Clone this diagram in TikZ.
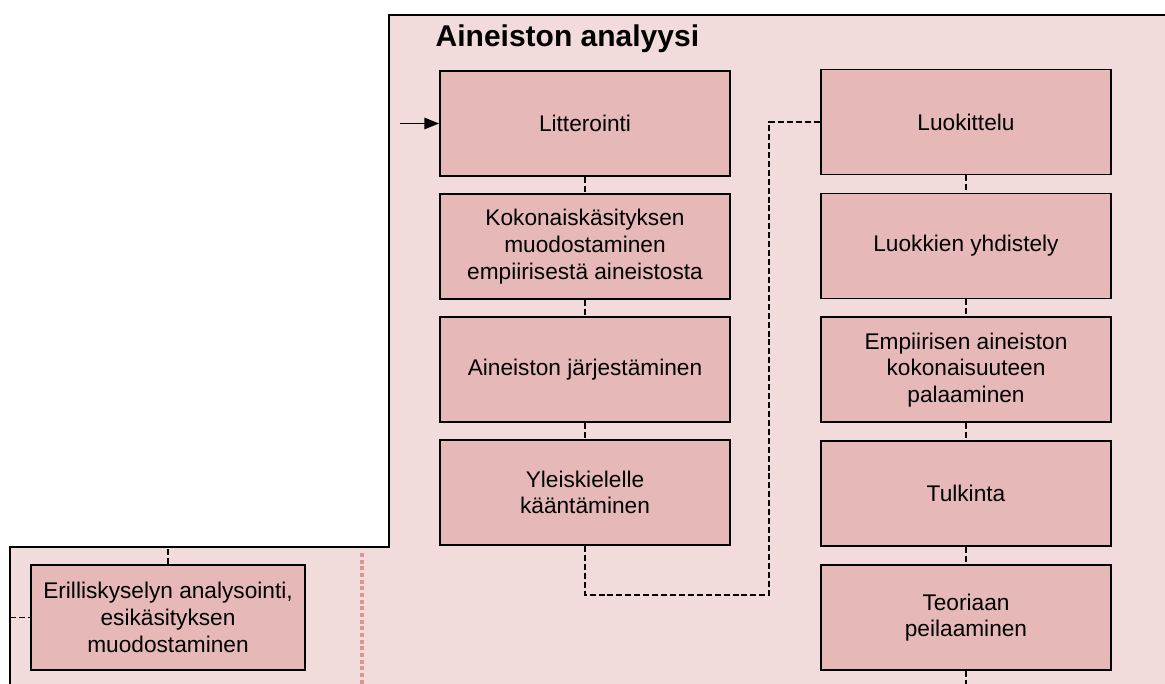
\documentclass[tikz,border=0pt]{standalone}
\usepackage{fontspec}
\setmainfont{Liberation Sans}
\usetikzlibrary{arrows.meta,positioning}
\definecolor{panel}{HTML}{F2DCDB}
\definecolor{boxfill}{HTML}{E6B9B8}
\definecolor{sep}{HTML}{D99694}

\begin{document}
\begin{tikzpicture}[x=0.75pt,y=-0.75pt,
 every node/.style={font=\fontsize{17}{20}\selectfont},
 stage/.style={draw,line width=1.3pt,fill=boxfill,minimum width=217.5pt,minimum height=78.75pt,align=center,inner sep=2pt},
 link/.style={dashed,line width=1.1pt,dash pattern=on 4.5pt off 2.2pt},
 arr/.style={-{Triangle[length=11pt,width=8.5pt]},line width=1.1pt}]
\useasboundingbox (0,0) rectangle (1165,684);
\clip (0,0) rectangle (1165,684);
% panel
\fill[panel] (1170,15) -- (389,15) -- (389,547) -- (10,547) -- (10,690) -- (1170,690) -- cycle;
\draw[line width=1.9pt] (1170,15) -- (389,15) -- (389,547) -- (10,547) -- (10,690);
\draw[sep,line width=3.6pt,dash pattern=on 3pt off 2pt] (362,553) -- (362,690);
\node[anchor=base west,font=\bfseries\fontsize{22.5}{27}\selectfont] (title) at (431,47) {Aineiston analyysi};
% left column
\begin{scope}[node distance=12.2pt]
\node[stage] (litt) at (585,123.5) {Litterointi};
\node[stage,below=of litt] (koko) {Kokonaiskäsityksen\\muodostaminen\\empiirisestä aineistosta};
\node[stage,below=of koko] (jarj) {Aineiston järjestäminen};
\node[stage,below=of jarj] (ylei) {Yleiskielelle\\kääntäminen};
\end{scope}
% right column
\begin{scope}[node distance=12.9pt]
\node[stage] (luok) at (966,122) {Luokittelu};
\node[stage,below=of luok] (yhdi) {Luokkien yhdistely};
\node[stage,below=of yhdi] (empi) {Empiirisen aineiston\\kokonaisuuteen\\palaaminen};
\node[stage,below=of empi] (tulk) {Tulkinta};
\node[stage,below=of tulk] (teor) {Teoriaan\\peilaaminen};
\end{scope}
% bottom left
\node[stage,minimum width=206pt] (eril) at (168,617.5) {Erilliskyselyn analysointi,\\esikäsityksen\\muodostaminen};
\coordinate (in) at (400,123.5);
\coordinate (eriltop) at (168,549);
\coordinate (erilleft) at (10,617.5);
\coordinate (teorend) at (966,690);
\draw[arr] (in) -- (litt);
\draw[link] (litt) -- (koko);
\draw[link] (koko) -- (jarj);
\draw[link] (jarj) -- (ylei);
\draw[link] (ylei.south) -- ++(0,49) -| (769,122) -- (luok.west);
\draw[link] (luok) -- (yhdi);
\draw[link] (yhdi) -- (empi);
\draw[link] (empi) -- (tulk);
\draw[link] (tulk) -- (teor);
\draw[link] (teor) -- (teorend);
\draw[link] (eriltop) -- (eril);
\draw[link] (erilleft) -- (eril);
\end{tikzpicture}
\end{document}
